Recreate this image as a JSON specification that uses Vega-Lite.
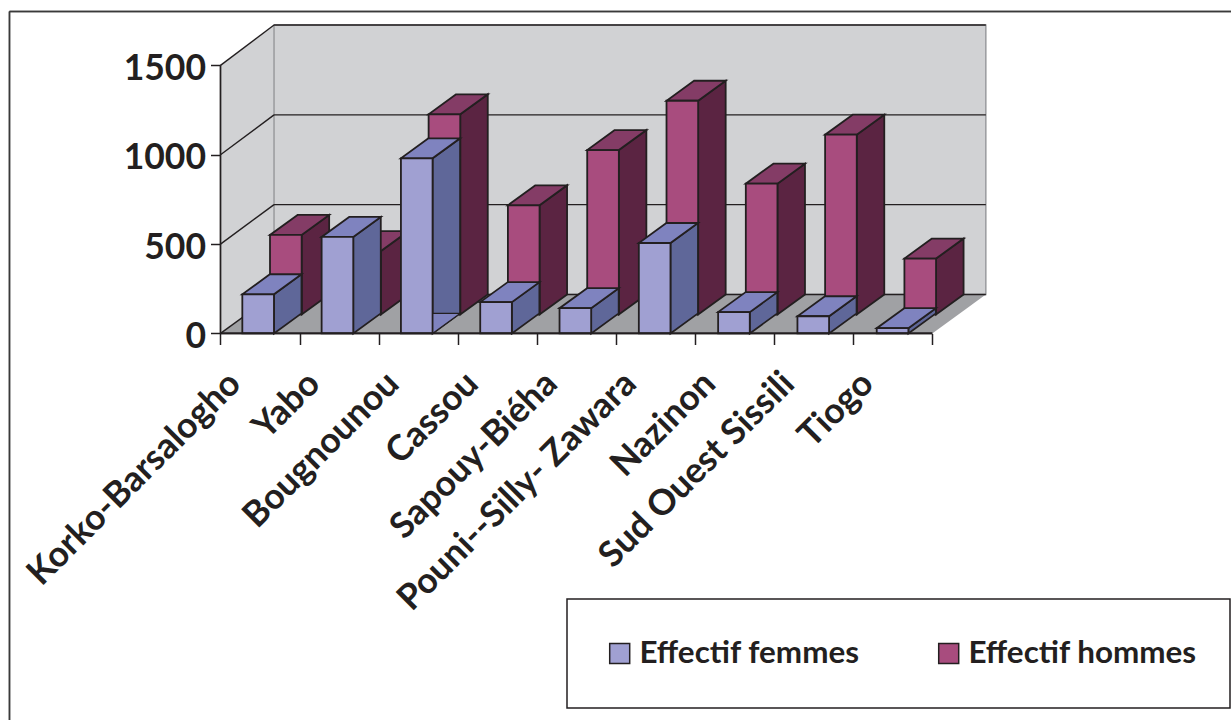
{
  "$schema": "https://vega.github.io/schema/vega-lite/v6.json",
  "width": 1231,
  "height": 720,
  "padding": 0,
  "autosize": {"type": "none"},
  "background": "white",
  "config": {
    "view": {"stroke": null},
    "font": "Lato",
    "axis": {"labelFont": "Lato", "labelFontWeight": "bold", "labelColor": "#231f20", "tickColor": "#231f20", "grid": false, "domain": false},
    "legend": {"strokeWidth": 1.5}
  },
  "datasets": {
    "effectifs": [
      {"lieu": "Korko-Barsalogho", "rang": 0, "serie": "Effectif femmes", "valeur": 219},
      {"lieu": "Yabo", "rang": 1, "serie": "Effectif femmes", "valeur": 540},
      {"lieu": "Bougnounou", "rang": 2, "serie": "Effectif femmes", "valeur": 980},
      {"lieu": "Cassou", "rang": 3, "serie": "Effectif femmes", "valeur": 175},
      {"lieu": "Sapouy-Biéha", "rang": 4, "serie": "Effectif femmes", "valeur": 141},
      {"lieu": "Pouni--Silly- Zawara", "rang": 5, "serie": "Effectif femmes", "valeur": 506},
      {"lieu": "Nazinon", "rang": 6, "serie": "Effectif femmes", "valeur": 119},
      {"lieu": "Sud Ouest Sissili", "rang": 7, "serie": "Effectif femmes", "valeur": 96},
      {"lieu": "Tiogo", "rang": 8, "serie": "Effectif femmes", "valeur": 29},
      {"lieu": "Korko-Barsalogho", "rang": 0, "serie": "Effectif hommes", "valeur": 445},
      {"lieu": "Yabo", "rang": 1, "serie": "Effectif hommes", "valeur": 355},
      {"lieu": "Bougnounou", "rang": 2, "serie": "Effectif hommes", "valeur": 1120},
      {"lieu": "Cassou", "rang": 3, "serie": "Effectif hommes", "valeur": 611},
      {"lieu": "Sapouy-Biéha", "rang": 4, "serie": "Effectif hommes", "valeur": 920},
      {"lieu": "Pouni--Silly- Zawara", "rang": 5, "serie": "Effectif hommes", "valeur": 1196},
      {"lieu": "Nazinon", "rang": 6, "serie": "Effectif hommes", "valeur": 732},
      {"lieu": "Sud Ouest Sissili", "rang": 7, "serie": "Effectif hommes", "valeur": 1006},
      {"lieu": "Tiogo", "rang": 8, "serie": "Effectif hommes", "valeur": 313}
    ],
    "plans": [{"d": 0}, {"d": 1}],
    "graduations": [{"v": 0}, {"v": 500}, {"v": 1000}, {"v": 1500}]
  },
  "data": {"name": "effectifs"},
  "transform": [
    {"calculate": "datum.serie === 'Effectif hommes' ? 1 : 0", "as": "rangee"},
    {"calculate": "datum.rang * 1.0027 + 0.276 + datum.rangee * 0.35", "as": "gauche"},
    {"calculate": "datum.gauche + 0.4", "as": "droite"},
    {"calculate": "datum.rangee * 106", "as": "bas"},
    {"calculate": "datum.bas + datum.valeur", "as": "haut"}
  ],
  "layer": [
    {
      "data": {"name": "plans"},
      "transform": [
        {"calculate": "datum.d * 0.677", "as": "x"},
        {"calculate": "datum.d * 218", "as": "y0"},
        {"calculate": "1500 + datum.d * 226", "as": "y1"}
      ],
      "mark": {"type": "area", "orient": "vertical", "fill": "#d1d2d4"},
      "encoding": {
        "x": {
          "field": "x", "type": "quantitative", "title": null,
          "scale": {"domain": [-2.788, 12.777], "nice": false, "zero": false},
          "axis": {
            "orient": "bottom", "offset": -386.5, "values": [0, 1, 2, 3, 4, 5, 6, 7, 8, 9],
            "tickSize": 11, "tickWidth": 1.5, "labelFontSize": 35.5, "labelAngle": -45,
            "labelAlign": "right", "labelBaseline": "middle", "labelOffset": 14, "labelPadding": 33, "labelLimit": 500,
            "labelOverlap": false, "labelBound": false, "labelFlush": false,
            "labelExpr": "['Korko-Barsalogho','Yabo','Bougnounou','Cassou','Sapouy-Biéha','Pouni--Silly- Zawara','Nazinon','Sud Ouest Sissili','Tiogo',''][datum.value]"
          }
        },
        "y": {
          "field": "y0", "type": "quantitative", "title": null,
          "scale": {"domain": [-2163.7, 1866], "nice": false, "zero": false},
          "axis": {
            "orient": "left", "offset": -220.5, "values": [0, 500, 1000, 1500], "format": "d",
            "tickSize": 10, "tickWidth": 1.5, "labelFontSize": 35.5, "labelPadding": 5, "labelBaseline": "middle", "labelOffset": 3
          }
        },
        "y2": {"field": "y1"}
      }
    },
    {
      "data": {"name": "plans"},
      "transform": [
        {"filter": "datum.d === 1"},
        {"calculate": "0.677", "as": "x"},
        {"calculate": "9.677", "as": "x2"},
        {"calculate": "218", "as": "y0"},
        {"calculate": "1726", "as": "y1"}
      ],
      "mark": {"type": "rect", "fill": "#d1d2d4", "stroke": "#9a9b9e", "strokeWidth": 1.5},
      "encoding": {
        "x": {"field": "x", "type": "quantitative", "scale": {"domain": [-2.788, 12.777], "nice": false, "zero": false}, "title": null},
        "x2": {"field": "x2"},
        "y": {"field": "y0", "type": "quantitative", "scale": {"domain": [-2163.7, 1866], "nice": false, "zero": false}, "title": null},
        "y2": {"field": "y1"}
      }
    },
    {
      "data": {"name": "plans"},
      "transform": [
        {"calculate": "datum.d * 0.677", "as": "x"},
        {"calculate": "9 + datum.d * 0.677", "as": "x2"},
        {"calculate": "datum.d * 218", "as": "y0"}
      ],
      "mark": {"type": "area", "orient": "horizontal", "fill": "#a0a1a4"},
      "encoding": {
        "x": {"field": "x", "type": "quantitative", "scale": {"domain": [-2.788, 12.777], "nice": false, "zero": false}, "title": null},
        "x2": {"field": "x2"},
        "y": {"field": "y0", "type": "quantitative", "scale": {"domain": [-2163.7, 1866], "nice": false, "zero": false}, "title": null}
      }
    },
    {
      "data": {"name": "graduations"},
      "transform": [
        {"calculate": "datum.v + datum.v / 1500 * 8 + 218", "as": "arriere"},
        {"calculate": "0", "as": "x"},
        {"calculate": "0.677", "as": "x2"}
      ],
      "mark": {"type": "rule", "stroke": "#231f20", "strokeWidth": 1.4},
      "encoding": {
        "x": {"field": "x", "type": "quantitative", "scale": {"domain": [-2.788, 12.777], "nice": false, "zero": false}, "title": null},
        "x2": {"field": "x2"},
        "y": {"field": "v", "type": "quantitative", "scale": {"domain": [-2163.7, 1866], "nice": false, "zero": false}, "title": null},
        "y2": {"field": "arriere"}
      }
    },
    {
      "data": {"name": "graduations"},
      "transform": [
        {"calculate": "datum.v + datum.v / 1500 * 8 + 218", "as": "arriere"},
        {"calculate": "0.677", "as": "x"},
        {"calculate": "9.677", "as": "x2"}
      ],
      "mark": {"type": "rule", "stroke": "#231f20", "strokeWidth": 1.4},
      "encoding": {
        "x": {"field": "x", "type": "quantitative", "scale": {"domain": [-2.788, 12.777], "nice": false, "zero": false}, "title": null},
        "x2": {"field": "x2"},
        "y": {"field": "arriere", "type": "quantitative", "scale": {"domain": [-2163.7, 1866], "nice": false, "zero": false}, "title": null}
      }
    },
    {
      "transform": [
        {"filter": "datum.rangee === 1"},
        {"calculate": "[0, 1]", "as": "d"},
        {"flatten": ["d"]},
        {"calculate": "datum.droite + datum.d * 0.348", "as": "xf"},
        {"calculate": "datum.haut + datum.d * 112", "as": "yh"},
        {"calculate": "datum.bas + datum.d * 112", "as": "yb"}
      ],
      "mark": {"type": "area", "orient": "vertical", "fill": "#5b2442", "stroke": "#231f20", "strokeWidth": 1.8},
      "encoding": {
        "x": {"field": "xf", "type": "quantitative", "scale": {"domain": [-2.788, 12.777], "nice": false, "zero": false}, "title": null},
        "y": {"field": "yh", "type": "quantitative", "scale": {"domain": [-2163.7, 1866], "nice": false, "zero": false}, "title": null},
        "y2": {"field": "yb"},
        "detail": {"field": "lieu"}
      }
    },
    {
      "transform": [
        {"filter": "datum.rangee === 1"},
        {"calculate": "[0, 1]", "as": "d"},
        {"flatten": ["d"]},
        {"calculate": "datum.gauche + datum.d * 0.348", "as": "xg"},
        {"calculate": "datum.droite + datum.d * 0.348", "as": "xd"},
        {"calculate": "datum.haut + datum.d * 112", "as": "yh"}
      ],
      "mark": {"type": "area", "orient": "horizontal", "fill": "#843c66", "stroke": "#231f20", "strokeWidth": 1.8},
      "encoding": {
        "x": {"field": "xg", "type": "quantitative", "scale": {"domain": [-2.788, 12.777], "nice": false, "zero": false}, "title": null},
        "x2": {"field": "xd"},
        "y": {"field": "yh", "type": "quantitative", "scale": {"domain": [-2163.7, 1866], "nice": false, "zero": false}, "title": null},
        "detail": {"field": "lieu"}
      }
    },
    {
      "transform": [{"filter": "datum.rangee === 1"}],
      "mark": {"type": "rect", "stroke": "#231f20", "strokeWidth": 1.8},
      "encoding": {
        "x": {"field": "gauche", "type": "quantitative", "scale": {"domain": [-2.788, 12.777], "nice": false, "zero": false}, "title": null},
        "x2": {"field": "droite"},
        "y": {"field": "bas", "type": "quantitative", "scale": {"domain": [-2163.7, 1866], "nice": false, "zero": false}, "title": null},
        "y2": {"field": "haut"},
        "color": {"field": "serie", "type": "nominal", "scale": {"domain": ["Effectif femmes", "Effectif hommes"], "range": ["#a0a0d2", "#a84c7e"]}}
      }
    },
    {
      "transform": [
        {"filter": "datum.rangee === 0"},
        {"calculate": "[0, 1]", "as": "d"},
        {"flatten": ["d"]},
        {"calculate": "datum.droite + datum.d * 0.348", "as": "xf"},
        {"calculate": "datum.haut + datum.d * 112", "as": "yh"},
        {"calculate": "datum.bas + datum.d * 112", "as": "yb"}
      ],
      "mark": {"type": "area", "orient": "vertical", "fill": "#5f6799", "stroke": "#231f20", "strokeWidth": 1.8},
      "encoding": {
        "x": {"field": "xf", "type": "quantitative", "scale": {"domain": [-2.788, 12.777], "nice": false, "zero": false}, "title": null},
        "y": {"field": "yh", "type": "quantitative", "scale": {"domain": [-2163.7, 1866], "nice": false, "zero": false}, "title": null},
        "y2": {"field": "yb"},
        "detail": {"field": "lieu"}
      }
    },
    {
      "transform": [
        {"filter": "datum.rangee === 0 && datum.lieu === 'Bougnounou'"},
        {"calculate": "[0, 1]", "as": "d"},
        {"flatten": ["d"]},
        {"calculate": "datum.gauche + datum.d * 0.348", "as": "xg"},
        {"calculate": "datum.droite + datum.d * 0.348", "as": "xd"},
        {"calculate": "datum.d * 112", "as": "yb"}
      ],
      "mark": {"type": "area", "orient": "horizontal", "fill": "#7f83bf", "stroke": "#231f20", "strokeWidth": 1.2},
      "encoding": {
        "x": {"field": "xg", "type": "quantitative", "scale": {"domain": [-2.788, 12.777], "nice": false, "zero": false}, "title": null},
        "x2": {"field": "xd"},
        "y": {"field": "yb", "type": "quantitative", "scale": {"domain": [-2163.7, 1866], "nice": false, "zero": false}, "title": null},
        "detail": {"field": "lieu"}
      }
    },
    {
      "transform": [
        {"filter": "datum.rangee === 0"},
        {"calculate": "[0, 1]", "as": "d"},
        {"flatten": ["d"]},
        {"calculate": "datum.gauche + datum.d * 0.348", "as": "xg"},
        {"calculate": "datum.droite + datum.d * 0.348", "as": "xd"},
        {"calculate": "datum.haut + datum.d * 112", "as": "yh"}
      ],
      "mark": {"type": "area", "orient": "horizontal", "fill": "#7f83bf", "stroke": "#231f20", "strokeWidth": 1.8},
      "encoding": {
        "x": {"field": "xg", "type": "quantitative", "scale": {"domain": [-2.788, 12.777], "nice": false, "zero": false}, "title": null},
        "x2": {"field": "xd"},
        "y": {"field": "yh", "type": "quantitative", "scale": {"domain": [-2163.7, 1866], "nice": false, "zero": false}, "title": null},
        "detail": {"field": "lieu"}
      }
    },
    {
      "transform": [{"filter": "datum.rangee === 0"}],
      "mark": {"type": "rect", "stroke": "#231f20", "strokeWidth": 1.8},
      "encoding": {
        "x": {"field": "gauche", "type": "quantitative", "scale": {"domain": [-2.788, 12.777], "nice": false, "zero": false}, "title": null},
        "x2": {"field": "droite"},
        "y": {"field": "bas", "type": "quantitative", "scale": {"domain": [-2163.7, 1866], "nice": false, "zero": false}, "title": null},
        "y2": {"field": "haut"},
        "color": {
          "field": "serie", "type": "nominal",
          "scale": {"domain": ["Effectif femmes", "Effectif hommes"], "range": ["#a0a0d2", "#a84c7e"]},
          "legend": {
            "title": null, "orient": "none", "legendX": 567, "legendY": 599, "direction": "horizontal", "columns": 2,
            "padding": 33, "strokeColor": "#231f20", "fillColor": "white",
            "symbolType": "square", "symbolSize": 400, "symbolStrokeColor": "#231f20", "symbolStrokeWidth": 1.5, "symbolOpacity": 1,
            "symbolOffset": 4, "labelFont": "Lato", "labelFontWeight": "bold", "labelFontSize": 31.4, "labelColor": "#231f20",
            "labelOffset": 4, "labelLimit": 300, "columnPadding": 69, "clipHeight": 43
          }
        }
      }
    },
    {
      "data": {"name": "plans"},
      "mark": {"type": "rule", "stroke": "#231f20", "strokeWidth": 1.8},
      "encoding": {
        "x": {"datum": 0, "type": "quantitative", "scale": {"domain": [-2.788, 12.777], "nice": false, "zero": false}, "title": null},
        "x2": {"datum": 9},
        "y": {"datum": 0, "type": "quantitative", "scale": {"domain": [-2163.7, 1866], "nice": false, "zero": false}, "title": null}
      }
    },
    {
      "data": {"name": "plans"},
      "mark": {"type": "rule", "stroke": "#231f20", "strokeWidth": 1.4},
      "encoding": {
        "x": {"datum": 0, "type": "quantitative", "scale": {"domain": [-2.788, 12.777], "nice": false, "zero": false}, "title": null},
        "y": {"datum": 0, "type": "quantitative", "scale": {"domain": [-2163.7, 1866], "nice": false, "zero": false}, "title": null},
        "y2": {"datum": 1500}
      }
    },
    {
      "data": {"name": "plans"},
      "mark": {"type": "rule", "stroke": "#3a3a3a", "strokeWidth": 1.5},
      "encoding": {
        "x": {"datum": -2.668, "type": "quantitative", "scale": {"domain": [-2.788, 12.777], "nice": false, "zero": false}, "title": null},
        "x2": {"datum": 12.777},
        "y": {"datum": 1802, "type": "quantitative", "scale": {"domain": [-2163.7, 1866], "nice": false, "zero": false}, "title": null}
      }
    },
    {
      "data": {"name": "plans"},
      "mark": {"type": "rule", "stroke": "#3a3a3a", "strokeWidth": 1.5},
      "encoding": {
        "x": {"datum": -2.668, "type": "quantitative", "scale": {"domain": [-2.788, 12.777], "nice": false, "zero": false}, "title": null},
        "y": {"datum": 1802, "type": "quantitative", "scale": {"domain": [-2163.7, 1866], "nice": false, "zero": false}, "title": null},
        "y2": {"datum": -2163.7}
      }
    }
  ]
}
